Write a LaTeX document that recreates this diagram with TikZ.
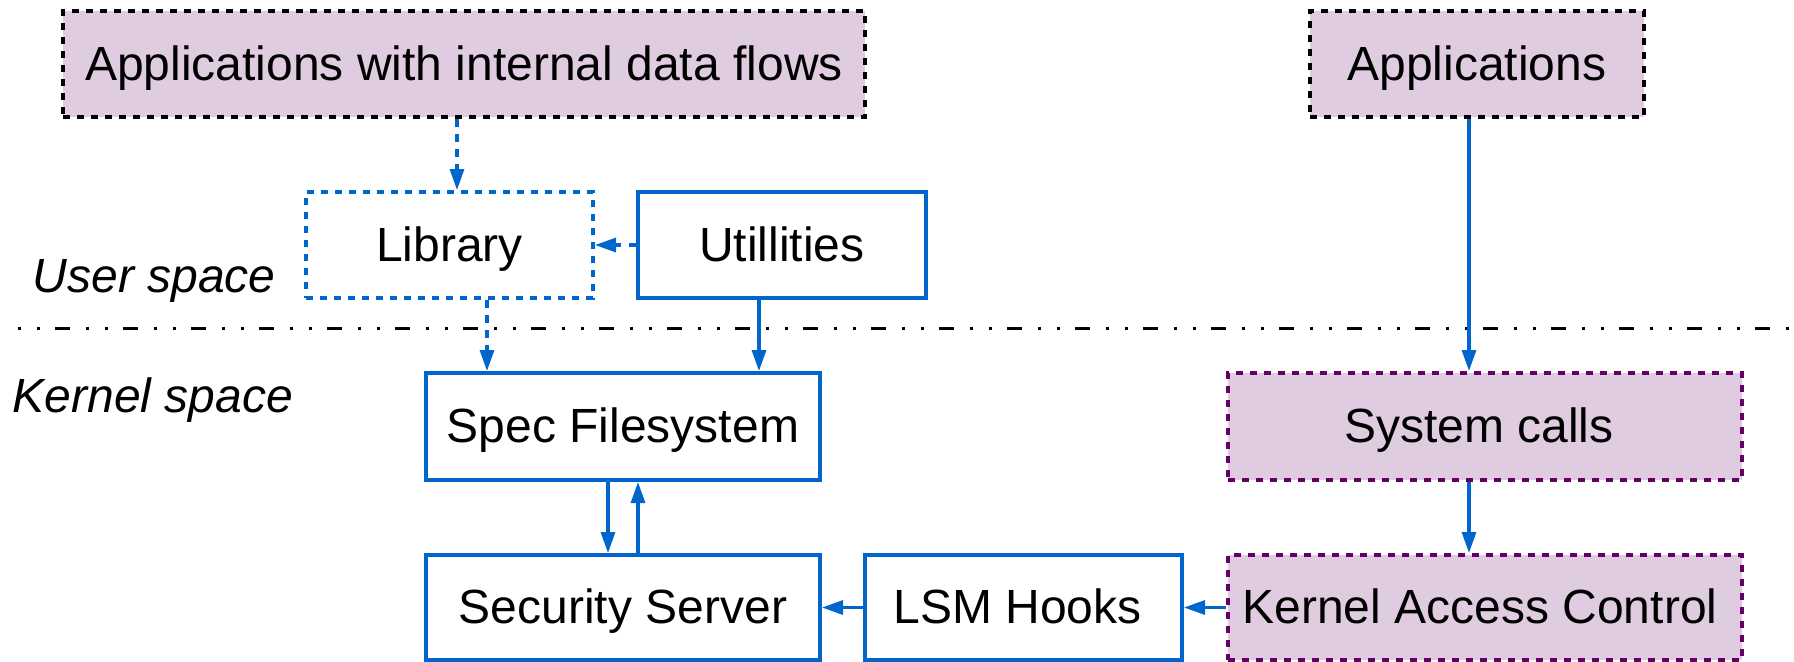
\documentclass[tikz,border=0pt]{standalone}
\usepackage{fontspec}
\setmainfont{Liberation Sans}
\usetikzlibrary{arrows.meta}
\definecolor{lblue}{HTML}{0066CC}
\definecolor{lfill}{HTML}{E0CCE0}
\definecolor{lpurple}{HTML}{660066}
\begin{document}
\begin{tikzpicture}[x=0.5pt,y=-0.5pt,
  every node/.style={font=\fontsize{24}{28}\selectfont, text height=16pt, text depth=0pt, inner sep=0pt},
  solidbox/.style={draw=lblue, line width=2pt, fill=white},
  dashblue/.style={draw=lblue, line width=2pt, dash pattern=on 3.5pt off 3.5pt},
  appbox/.style={draw=black, fill=lfill, line width=2pt, dash pattern=on 3.5pt off 3.5pt},
  kbox/.style={draw=lpurple, fill=lfill, line width=2pt, dash pattern=on 3.5pt off 3.5pt},
  arr/.style={draw=lblue, line width=1.6pt, -{Triangle[length=10.5pt,width=7pt]}},
  darr/.style={arr, dash pattern=on 3.75pt off 3.75pt},
  sep/.style={draw=black, line width=1.5pt, dash pattern=on 1.5pt off 8pt on 1.5pt off 7.5pt on 7.5pt off 8pt},
  spacelabel/.style={anchor=base west, font=\fontsize{24}{28}\selectfont\itshape}
]
\useasboundingbox (0,0) rectangle (1794,661);

\coordinate (sepL) at (18,328);
\coordinate (sepR) at (1794,328);
\draw[sep] (sepL) -- (sepR);

\node[appbox, minimum width=401pt, minimum height=53pt] (appsint) at (464,64) {Applications with internal data flows};
\node[appbox, minimum width=167pt, minimum height=53pt] (apps) at (1477,64) {Applications};
\node[dashblue, minimum width=143.5pt, minimum height=53pt] (lib) at (449.5,245) {Library};
\node[solidbox, minimum width=144pt, minimum height=53pt] (util) at (782,245) {Utillities};
\node[solidbox, minimum width=197pt, minimum height=53.5pt] (spec) at (623,426.5) {Spec Filesystem};
\node[solidbox, minimum width=197pt, minimum height=52.5pt] (sec) at (623,607.5) {Security Server};
\node[solidbox, minimum width=158.5pt, minimum height=52.5pt] (lsm) at (1023.5,607.5) {LSM Hooks\hspace*{6pt}};
\node[kbox, minimum width=257pt, minimum height=53.5pt] (sys) at (1485,426.5) {System calls\hspace*{6pt}};
\node[kbox, minimum width=257pt, minimum height=52.5pt] (kac) at (1485,607.5) {Kernel Access Control\hspace*{5pt}};

\node[spacelabel] (user) at (32.5,292) {User space};
\node[spacelabel] (kernel) at (12.5,412) {Kernel space};

\coordinate (xa) at (457,0);
\coordinate (xb) at (487,0);
\coordinate (xc) at (759,0);
\coordinate (xd) at (1469,0);
\coordinate (xe) at (608,0);
\coordinate (xf) at (638,0);

\draw[darr] (appsint.south -| xa) -- (lib.north -| xa);
\draw[darr] (util.west) -- (lib.east);
\draw[darr] (lib.south -| xb) -- (spec.north -| xb);
\draw[arr] (util.south -| xc) -- (spec.north -| xc);
\draw[arr] (apps.south -| xd) -- (sys.north -| xd);
\draw[arr] (sys.south -| xd) -- (kac.north -| xd);
\draw[arr] (spec.south -| xe) -- (sec.north -| xe);
\draw[arr] (sec.north -| xf) -- (spec.south -| xf);
\draw[arr] (kac.west) -- (lsm.east);
\draw[arr] (lsm.west) -- (sec.east);
\end{tikzpicture}
\end{document}
